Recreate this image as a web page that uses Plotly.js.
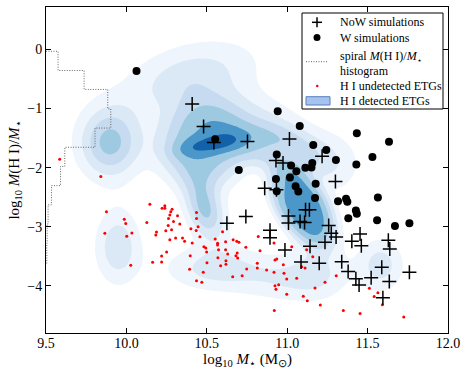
<!DOCTYPE html>
<html><head><meta charset="utf-8">
<script src="https://cdn.plot.ly/plotly-3.0.1.min.js"></script>
<style>body{margin:0;background:#fff}</style>
</head><body><div id="chart" style="width:463px;height:371px"></div>
<script>
// NoW simulations (+)
const nowX = [10.409,10.480,10.544,10.753,11.014,11.217,10.930,10.974,11.300,10.860,10.933,10.743,10.625,11.008,11.008,11.080,11.108,11.114,11.138,10.893,10.893,10.986,11.086,11.199,11.142,11.235,11.258,11.274,11.304,11.402,11.453,11.461,11.339,11.379,11.427,11.447,11.522,11.588,11.635,11.595,11.760,11.629,11.638];
const nowY = [-0.924,-1.304,-1.576,-1.559,-1.515,-1.807,-1.880,-1.921,-2.233,-2.348,-2.373,-2.826,-2.943,-2.821,-2.939,-2.910,-2.931,-2.711,-2.711,-3.061,-3.189,-3.395,-3.598,-3.620,-3.331,-3.265,-2.980,-3.111,-3.176,-3.247,-3.125,-3.323,-3.593,-3.758,-3.880,-3.986,-3.865,-3.688,-3.927,-4.203,-3.772,-3.231,-3.378];
// W simulations (filled circles)
const wX = [10.063,10.552,10.699,10.941,11.078,11.162,11.243,11.303,11.433,11.633,11.530,11.430,10.935,11.024,11.057,11.113,11.151,11.156,10.930,11.017,11.177,11.052,10.935,11.069,11.173,11.316,11.366,11.374,11.427,11.433,11.380,11.564,11.559,11.670,11.760];
const wY = [-0.363,-1.520,-2.039,-1.047,-1.296,-1.617,-1.701,-1.870,-1.419,-1.563,-1.819,-1.946,-1.779,-1.965,-2.061,-2.002,-1.998,-1.921,-2.191,-2.167,-2.272,-2.314,-2.399,-2.404,-2.512,-2.571,-2.525,-2.576,-2.725,-2.782,-2.858,-2.505,-2.889,-2.990,-2.943];
// H I undetected ETGs (red dots)
const undetX = [9.585,9.841,9.876,9.866,9.987,9.996,10.002,10.034,10.027,10.146,10.127,10.187,10.183,10.163,10.219,10.219,10.222,10.239,10.239,10.284,10.276,10.270,10.318,10.262,10.293,10.332,10.260,10.281,10.245,10.250,10.270,10.306,10.349,10.362,10.409,10.397,10.393,10.436,10.436,10.446,10.401,10.434,10.457,10.482,10.494,10.499,10.501,10.478,10.436,10.469,10.552,10.567,10.567,10.598,10.617,10.573,10.617,10.630,10.569,10.619,10.619,10.586,10.664,10.686,10.700,10.743,10.820,10.831,10.918,11.028,10.689,10.681,10.692,10.814,10.748,10.814,10.872,10.918,10.924,10.935,10.976,10.720,10.661,10.980,10.997,11.059,11.090,11.111,11.159,11.121,10.947,10.924,10.930,10.997,11.100,11.125,11.235,11.173,11.206,11.305,11.349,10.920,11.511,11.541,11.564,11.592,11.453,11.725];
const undetY = [-1.858,-2.150,-2.745,-3.111,-2.872,-2.948,-3.162,-3.108,-3.654,-2.618,-2.931,-3.091,-3.142,-3.601,-3.598,-3.497,-2.689,-2.647,-2.686,-2.703,-2.748,-2.804,-2.816,-2.860,-2.910,-2.956,-2.978,-3.052,-3.069,-3.429,-3.221,-3.193,-3.193,-3.248,-3.277,-3.492,-3.721,-2.758,-2.860,-3.002,-3.035,-3.063,-3.171,-3.340,-3.361,-3.429,-3.610,-3.772,-3.914,-3.941,-3.209,-3.282,-3.311,-3.086,-3.255,-3.390,-3.390,-3.463,-3.525,-3.576,-3.637,-3.661,-3.221,-3.248,-3.265,-3.350,-3.164,-3.407,-3.277,-3.340,-3.446,-3.492,-3.530,-3.620,-3.716,-3.699,-3.733,-3.772,-3.564,-3.547,-3.644,-3.829,-3.846,-3.789,-3.885,-3.873,-3.677,-3.699,-3.509,-3.390,-3.981,-3.998,-4.059,-4.144,-4.177,-4.253,-3.941,-4.037,-4.328,-3.829,-4.417,-4.421,-4.041,-4.181,-4.117,-4.321,-4.471,-4.527];
// spiral M(HI)/M* histogram, drawn sideways from the left axis
const histEdges = [-0.03,-0.355,-0.676,-1.005,-1.33,-1.655,-1.98,-2.305,-2.63,-2.955,-3.28,-3.62];
const histLen   = [9.575,9.737,9.884,9.903,9.805,9.617,9.590,9.534,9.513,9.507,9.505];
// H I detected ETGs density, as kernel components
// centre (data), spread along/across its axis (screen px), axis angle (deg), height, shape power
const kdeCx    = [10.476, 10.507, 10.955, 10.800, 11.092, 10.489, 9.898, 10.396, 9.948, 10.551, 11.017, 11.583, 11.198, 11.297];
const kdeCy    = [-1.634, -1.617, -1.701, -1.159, -2.660, -2.717, -1.583, -0.482, -3.344, -3.699, -3.902, -3.648, -3.564, -1.955];
const kdeMajor = [36, 24, 40, 40, 38, 22, 22, 48, 16, 35, 35, 16, 20, 22];
const kdeMinor = [34, 7, 20, 18, 22, 13, 25, 24, 26, 16, 16, 18.5, 25, 25];
const kdeAngle = [8, 10, -15, -15, -54, -70, 0, 15, 0, 0, 0, 0, 0, 0];
const kdeAmp   = [4.6, 1.6, 3.0, 2.0, 5.3, 4.2, 4.4, 2.6, 2.8, 2.4, 1.8, 2.5, 1.5, 1.4];
const kdePow   = [1.5, 1, 1.5, 1, 2, 1, 1, 1, 1, 1, 1, 1, 1, 1];
const levelValues = [1, 2, 3, 4, 5, 6];
const levelColors = ['#eff5fc','#dbe9f6','#c6dbef','#9ecae1','#4b97c9','#1361a9'];

const W = 463, H = 371, M = {l:46, r:15, t:7, b:38};
const xRange = [9.5, 12.0], yRange = [-4.8, 0.72];
const xPx = (W - M.l - M.r) / (xRange[1] - xRange[0]);
const yPx = (H - M.t - M.b) / (yRange[1] - yRange[0]);

function density(x, y) {
  let s = 0;
  for (let k = 0; k < kdeCx.length; k++) {
    const dx = (x - kdeCx[k]) * xPx, dy = (y - kdeCy[k]) * yPx;
    const a = kdeAngle[k] * Math.PI / 180, c = Math.cos(a), sn = Math.sin(a);
    const u = (dx*c + dy*sn) / kdeMajor[k], v = (-dx*sn + dy*c) / kdeMinor[k];
    const q = u*u + v*v;
    s += kdeAmp[k] * Math.exp(-0.5 * Math.pow(q, kdePow[k]));
  }
  return s;
}
const gx = [], gy = [];
for (let x = xRange[0]; x <= xRange[1] + 1e-6; x += 0.0125) gx.push(+x.toFixed(4));
for (let y = yRange[0]; y <= yRange[1] + 1e-6; y += 0.03) gy.push(+y.toFixed(3));
const gz = gy.map(y => gx.map(x => density(x, y)));

const hx = [9.5], hy = [histEdges[0]];
for (let i = 0; i < histLen.length; i++) { hx.push(histLen[i], histLen[i]); hy.push(histEdges[i], histEdges[i+1]); }
hx.push(9.5); hy.push(histEdges[histEdges.length-1]);

const serif = 'Liberation Serif, Times New Roman, serif';
// each band: Plotly shades the side of a constraint that fails it, so "<L" shades z >= L
const traces = levelValues.map((L, i) => ({
  type:'contour', x:gx, y:gy, z:gz, showscale:false, hoverinfo:'skip',
  contours:{type:'constraint', operation:'<', value:L},
  fillcolor: levelColors[i], line:{width:0, smoothing:1}
}));
traces.push(
  {type:'scatter', mode:'lines', x:hx, y:hy, line:{color:'#666', width:1, dash:'1px,1.5px'}, hoverinfo:'skip'},
  {type:'scatter', mode:'markers', x:undetX, y:undetY, marker:{color:'#ff0000', size:3}},
  {type:'scatter', mode:'markers', x:wX, y:wY, marker:{color:'#000', size:8, symbol:'circle'}},
  {type:'scatter', mode:'markers', x:nowX, y:nowY, marker:{color:'#000', size:10, symbol:'cross-thin', line:{color:'#000', width:1.5}}}
);

// legend (paper coordinates)
const px = v => (v - M.l) / (W - M.l - M.r), py = v => (H - M.b - v) / (H - M.t - M.b);
const shapes = [
  {type:'rect', xref:'paper', yref:'paper', x0:px(302), x1:px(443), y0:py(109), y1:py(13), line:{color:'#000', width:1}, fillcolor:'#fff', layer:'above'},
  {type:'line', xref:'paper', yref:'paper', x0:px(312), x1:px(322), y0:py(22.3), y1:py(22.3), line:{color:'#000', width:1.5}, layer:'above'},
  {type:'line', xref:'paper', yref:'paper', x0:px(317), x1:px(317), y0:py(17.3), y1:py(27.3), line:{color:'#000', width:1.5}, layer:'above'},
  {type:'circle', xref:'paper', yref:'paper', x0:px(313.5), x1:px(320.5), y0:py(41), y1:py(34), fillcolor:'#000', line:{width:0}, layer:'above'},
  {type:'line', xref:'paper', yref:'paper', x0:px(306), x1:px(328), y0:py(61.7), y1:py(61.7), line:{color:'#666', width:1, dash:'1px,1.5px'}, layer:'above'},
  {type:'circle', xref:'paper', yref:'paper', x0:px(316), x1:px(318.5), y0:py(87.3), y1:py(84.8), fillcolor:'#ff0000', line:{width:0}, layer:'above'},
  {type:'rect', xref:'paper', yref:'paper', x0:px(306), x1:px(330), y0:py(105), y1:py(96.7), fillcolor:'#a4c4ef', line:{color:'#5b7fbf', width:1}, layer:'above'}
];
const legTxt = [
  ['NoW simulations', 22.3], ['W simulations', 37.5],
  ['spiral <i>M</i>(H I)/<i>M</i><sub>⋆</sub>', 56.5], ['histogram', 70.5],
  ['H I undetected ETGs', 86], ['H I detected ETGs', 100.7]
];
const annotations = legTxt.map(([t,y]) => ({xref:'paper', yref:'paper', x:px(338), y:py(y), text:t, showarrow:false, xanchor:'left', yanchor:'middle', font:{family:serif, size:12, color:'#000'}}));
annotations.push({xref:'paper', yref:'paper', x:0.5, y:py(360), text:'log<sub>10</sub> <i>M</i><sub>⋆</sub> (M<sub>⊙</sub>)', showarrow:false, xanchor:'center', yanchor:'middle', font:{family:serif, size:15, color:'#000'}});

const layout = {
  width:W, height:H, margin:M,
  paper_bgcolor:'#fff', plot_bgcolor:'#fff', showlegend:false,
  font:{family:serif, size:14, color:'#000'},
  xaxis:{range:xRange, dtick:0.5, tick0:9.5, tickformat:'.1f', ticks:'inside', ticklen:5, tickcolor:'#000',
    ticklabelstandoff:-3,
    showline:true, linecolor:'#000', linewidth:1, mirror:'ticks', showgrid:false, zeroline:false},
  yaxis:{range:yRange, dtick:1, tick0:0, ticks:'inside', ticklen:5, tickcolor:'#000',
    showline:true, linecolor:'#000', linewidth:1, mirror:'ticks', showgrid:false, zeroline:false,
    title:{text:'log<sub>10</sub> <i>M</i>(H I)/<i>M</i><sub>⋆</sub>', font:{family:serif, size:15}, standoff:4}},
  shapes, annotations
};
Plotly.newPlot('chart', traces, layout, {staticPlot:true});
</script></body></html>
